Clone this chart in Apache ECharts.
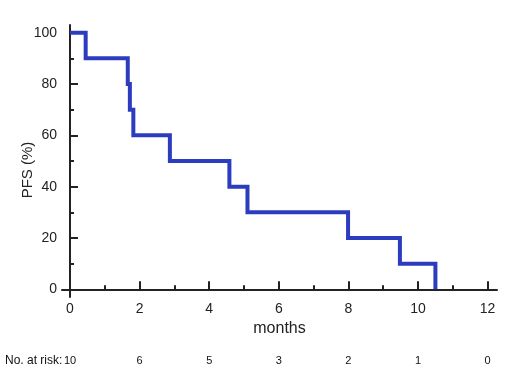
<!DOCTYPE html>
<html>
<head>
<meta charset="utf-8">
<script src="https://cdn.jsdelivr.net/npm/echarts@6/dist/echarts.min.js"></script>
<style>
  html, body { margin: 0; padding: 0; background: #fff; }
  #main { width: 510px; height: 374px; }
</style>
</head>
<body>
<div id="main"></div>
<script>
// KM curve
const eventMonths = [0, 0.45, 1.66, 1.72, 1.82, 2.87, 4.58, 5.1, 7.99, 9.48, 10.5];
const pfsPercent  = [100, 90, 80, 70, 60, 50, 40, 30, 20, 10, 0];

const xMajorTicks = [0, 2, 4, 6, 8, 10, 12];
const xMinorTicks = [1, 3, 5, 7, 9, 11];
const yMajorTicks = [0, 20, 40, 60, 80, 100];
const yMinorTicks = [10, 30, 50, 70, 90];

const atRiskMonths = [0, 2, 4, 6, 8, 10, 12];
const atRiskCounts = [10, 6, 5, 3, 2, 1, 0];

let xMin = -0.23, xMax = 12.27;      // axis runs a bit past 0 and 12
let yMin = -3, yMax = 103;
let lineColor = '#2c3cbe';
let axisColor = '#222';
let font = 'Liberation Sans, Arial, sans-serif';

let myChart = echarts.init(document.getElementById('main'));

let gridBox = { left: 62, right: 13, top: 25, bottom: 77 };

let seriesData = eventMonths.map((t, i) => [t, pfsPercent[i]]);

let option = {
    animation: false,
    backgroundColor: '#fff',
    grid: [
        Object.assign({}, gridBox),   // main plot
        Object.assign({}, gridBox),   // minor ticks
        Object.assign({}, gridBox)    // numbers at risk
    ],
    xAxis: [
        {
            gridIndex: 0, type: 'value', min: xMin, max: xMax,
            name: 'months', nameLocation: 'middle', nameGap: 19,
            nameTextStyle: { color: axisColor, fontSize: 16, fontFamily: font },
            axisLine: { show: true, lineStyle: { color: axisColor, width: 2 } },
            axisTick: { show: true, inside: true, length: 8, customValues: xMajorTicks,
                lineStyle: { color: axisColor, width: 2 } },
            axisLabel: { customValues: xMajorTicks, color: axisColor, fontSize: 14,
                fontFamily: font, margin: 5 },
            splitLine: { show: false }
        },
        {
            gridIndex: 1, type: 'value', min: xMin, max: xMax,
            axisLine: { show: false },
            axisTick: { show: true, inside: true, length: 4, customValues: xMinorTicks,
                lineStyle: { color: axisColor, width: 2 } },
            axisLabel: { show: false },
            splitLine: { show: false }
        },
        {
            gridIndex: 2, type: 'value', min: xMin, max: xMax,
            offset: 50,
            axisLine: { show: false },
            axisTick: { show: false },
            axisLabel: {
                customValues: atRiskMonths, color: '#111', fontSize: 11,
                fontFamily: font, margin: 8,
                formatter: function (value) {
                    let idx = atRiskMonths.indexOf(value);
                    return idx >= 0 ? String(atRiskCounts[idx]) : '';
                }
            },
            splitLine: { show: false }
        }
    ],
    yAxis: [
        {
            gridIndex: 0, type: 'value', min: yMin, max: yMax,
            axisLine: { show: true, lineStyle: { color: axisColor, width: 2 } },
            axisTick: { show: true, inside: true, length: 8, customValues: yMajorTicks,
                lineStyle: { color: axisColor, width: 2 } },
            axisLabel: { customValues: yMajorTicks, color: axisColor, fontSize: 14,
                fontFamily: font, margin: 5 },
            splitLine: { show: false }
        },
        {
            gridIndex: 1, type: 'value', min: yMin, max: yMax,
            axisLine: { show: false },
            axisTick: { show: true, inside: true, length: 4, customValues: yMinorTicks,
                lineStyle: { color: axisColor, width: 2 } },
            axisLabel: { show: false },
            splitLine: { show: false }
        },
        {
            gridIndex: 2, type: 'value', min: yMin, max: yMax, show: false
        }
    ],
    graphic: [
        {
            type: 'text', x: 28, y: 170, rotation: Math.PI / 2,
            style: { text: 'PFS (%)', fill: axisColor, fontSize: 15, fontFamily: font,
                align: 'center', verticalAlign: 'middle' }
        },
        {
            type: 'text', x: 5, y: 361,
            style: { text: 'No. at risk:', fill: '#111', fontSize: 12, fontFamily: font,
                align: 'left', verticalAlign: 'middle' }
        }
    ],
    series: [
        {
            name: 'PFS', type: 'line', xAxisIndex: 0, yAxisIndex: 0,
            step: 'end', showSymbol: false, symbol: 'none',
            lineStyle: { color: lineColor, width: 4, cap: 'butt', join: 'miter' },
            data: seriesData
        }
    ]
};

myChart.setOption(option, true);
</script>
</body>
</html>
